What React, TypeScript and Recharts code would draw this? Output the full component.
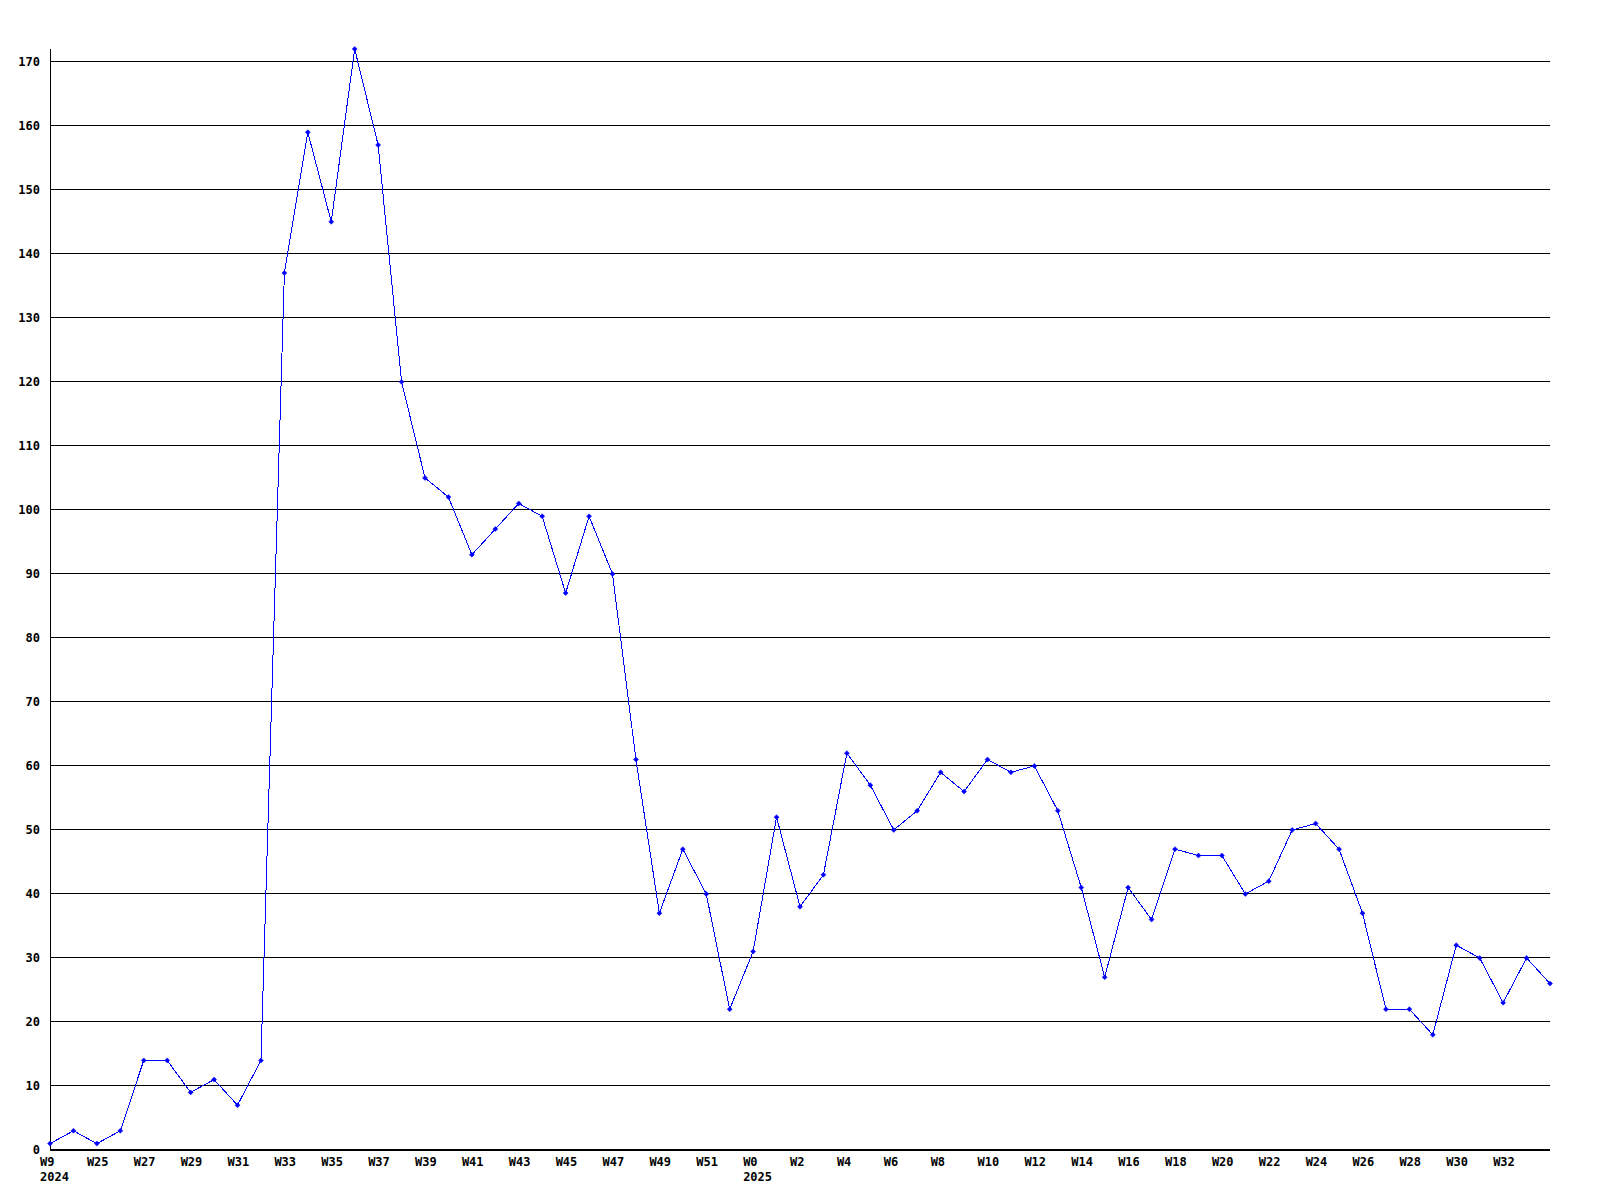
import React from 'react';
import { LineChart, Line, XAxis, YAxis, ReferenceLine } from 'recharts';

// Week labels as printed under the axis (one per data point)
const weekLabels: string[] = [
  'W9', 'W24', 'W25', 'W26', 'W27', 'W28', 'W29', 'W30', 'W31', 'W32',
  'W33', 'W34', 'W35', 'W36', 'W37', 'W38', 'W39', 'W40', 'W41', 'W42',
  'W43', 'W44', 'W45', 'W46', 'W47', 'W48', 'W49', 'W50', 'W51', 'W52',
  'W0', 'W1', 'W2', 'W3', 'W4', 'W5', 'W6', 'W7', 'W8', 'W9',
  'W10', 'W11', 'W12', 'W13', 'W14', 'W15', 'W16', 'W17', 'W18', 'W19',
  'W20', 'W21', 'W22', 'W23', 'W24', 'W25', 'W26', 'W27', 'W28', 'W29',
  'W30', 'W31', 'W32', 'W33', 'W34',
];

// Year shown under specific ticks
const yearLabels: Record<number, string> = { 0: '2024', 30: '2025' };

const values: number[] = [
  1, 3, 1, 3, 14, 14, 9, 11, 7, 14,
  137, 159, 145, 172, 157, 120, 105, 102, 93, 97,
  101, 99, 87, 99, 90, 61, 37, 47, 40, 22,
  31, 52, 38, 43, 62, 57, 50, 53, 59, 56,
  61, 59, 60, 53, 41, 27, 41, 36, 47, 46,
  46, 40, 42, 50, 51, 47, 37, 22, 22, 18,
  32, 30, 23, 30, 26,
];

const yTicks: number[] = [0, 10, 20, 30, 40, 50, 60, 70, 80, 90, 100, 110, 120, 130, 140, 150, 160, 170];
const xTicks: number[] = Array.from({ length: 32 }, (_, k) => k * 2);

const data = values.map((v, i) => ({ i, v }));

const FONT = '"DejaVu Sans Mono", monospace';

const XTick = (props: any) => {
  const { x, payload } = props;
  const idx = payload.value as number;
  const year = yearLabels[idx];
  return (
    <g>
      <text x={x - 10} y={1162} textAnchor="start" dominantBaseline="central" fontFamily={FONT} fontWeight="bold" fontSize={12} fill="#000">
        {weekLabels[idx]}
      </text>
      {year && (
        <text x={x - 10} y={1177} textAnchor="start" dominantBaseline="central" fontFamily={FONT} fontWeight="bold" fontSize={12} fill="#000">
          {year}
        </text>
      )}
    </g>
  );
};

const YTick = (props: any) => {
  const { y, payload } = props;
  return (
    <text x={40} y={y} textAnchor="end" dominantBaseline="central" fontFamily={FONT} fontWeight="bold" fontSize={12} fill="#000">
      {payload.value}
    </text>
  );
};

const Dot = (props: any) => {
  const { cx, cy } = props;
  if (cx == null || cy == null) return null;
  return (
    <path
      d={`M${cx},${cy - 2.5} L${cx + 2.5},${cy} L${cx},${cy + 2.5} L${cx - 2.5},${cy} Z`}
      fill="#0000ff"
      stroke="#0000ff"
      strokeWidth={0.5}
    />
  );
};

export default function App() {
  return (
    <div style={{ position: 'absolute', left: 0, top: 0, width: 1600, height: 1200, background: '#fff' }}>
      <style>{`.chart-root line { shape-rendering: crispEdges; } .chart-root .recharts-line-curve { shape-rendering: crispEdges; }`}</style>
      <div className="chart-root">
        <LineChart width={1600} height={1200} data={data} margin={{ top: 49, right: 50, bottom: 0, left: 0 }}>
          <XAxis
            dataKey="i"
            type="number"
            domain={[0, 64]}
            ticks={xTicks}
            interval={0}
            tick={<XTick />}
            tickLine={false}
            axisLine={{ stroke: '#000', strokeWidth: 2 }}
            height={50}
          />
          <YAxis
            type="number"
            domain={[0, 172]}
            ticks={yTicks}
            interval={0}
            tick={<YTick />}
            tickLine={false}
            axisLine={{ stroke: '#000', strokeWidth: 1 }}
            width={50}
          />
          {yTicks.filter((t) => t > 0).map((t) => (
            <ReferenceLine key={t} y={t} stroke="#000" strokeWidth={1} ifOverflow="visible" />
          ))}
          <Line
            type="linear"
            dataKey="v"
            stroke="#0000ff"
            strokeWidth={1}
            dot={<Dot />}
            activeDot={false}
            isAnimationActive={false}
          />
        </LineChart>
      </div>
    </div>
  );
}
